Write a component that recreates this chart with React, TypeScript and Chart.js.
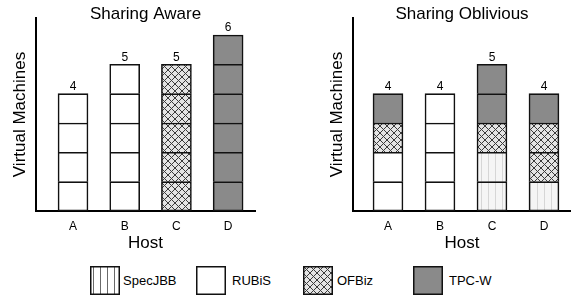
import React, { useEffect, useRef } from "react";
import { Chart, registerables } from "chart.js";

Chart.register(...registerables);

// ---------- data ----------
const hosts = ["A", "B", "C", "D"];
const apps = ["SpecJBB", "RUBiS", "OFBiz", "TPC-W"];

// VM stacks per host, bottom -> top
const awareA = ["RUBiS", "RUBiS", "RUBiS", "RUBiS"];
const awareB = ["RUBiS", "RUBiS", "RUBiS", "RUBiS", "RUBiS"];
const awareC = ["OFBiz", "OFBiz", "OFBiz", "OFBiz", "OFBiz"];
const awareD = ["TPC-W", "TPC-W", "TPC-W", "TPC-W", "TPC-W", "TPC-W"];

const obliviousA = ["RUBiS", "RUBiS", "OFBiz", "TPC-W"];
const obliviousB = ["RUBiS", "RUBiS", "RUBiS", "RUBiS"];
const obliviousC = ["SpecJBB", "SpecJBB", "OFBiz", "TPC-W", "TPC-W"];
const obliviousD = ["SpecJBB", "OFBiz", "OFBiz", "TPC-W"];

const FONT = "'Liberation Sans', Arial, Helvetica, sans-serif";

// ---------- fills ----------
function makeFill(app: string, legend = false): string | CanvasPattern {
  if (app === "TPC-W") return "#8a8a8a";
  if (app === "RUBiS") return "#ffffff";
  const c = document.createElement("canvas");
  const ctx = c.getContext("2d")!;
  if (app === "SpecJBB") {
    c.width = 7;
    c.height = 7;
    ctx.fillStyle = legend ? "#ffffff" : "#f5f5f5";
    ctx.fillRect(0, 0, 7, 7);
    ctx.fillStyle = legend ? "#6a6a6a" : "#d6d6d6";
    ctx.fillRect(3, 0, 1, 7);
  } else {
    // OFBiz cross-hatch
    c.width = 7;
    c.height = 7;
    ctx.fillStyle = "#e4e4e4";
    ctx.fillRect(0, 0, 7, 7);
    ctx.fillStyle = "#3a3a3a";
    for (let i = 0; i < 7; i++) {
      ctx.fillRect(i, i, 1, 1);
      ctx.fillRect(6 - i, i, 1, 1);
    }
  }
  return ctx.createPattern(c, "repeat")!;
}

function buildChart(
  canvas: HTMLCanvasElement,
  stacks: string[][],
  title: string,
  xMin: number,
  xMax: number,
  padRight: number
) {
  const fills: Record<string, string | CanvasPattern> = {};
  apps.forEach((a) => (fills[a] = makeFill(a)));
  const maxLen = Math.max(...stacks.map((s) => s.length));
  const datasets: any[] = [];
  for (let level = 0; level < maxLen; level++) {
    datasets.push({
      label: `VM ${level + 1}`,
      data: hosts.map((_, i) => ({ x: i, y: stacks[i][level] ? 1 : null })),
      backgroundColor: hosts.map((_, i) =>
        stacks[i][level] ? fills[stacks[i][level]] : "rgba(0,0,0,0)"
      ),
      borderColor: "#111111",
      borderWidth: { top: 1.6, left: 1.6, right: 1.6, bottom: level === 0 ? 1.6 : 0 },
      borderSkipped: false,
      barThickness: 30,
    });
  }

  const totalsPlugin = {
    id: "totals",
    afterDatasetsDraw(chart: any) {
      const { ctx, scales } = chart;
      ctx.save();
      ctx.font = `12px ${FONT}`;
      ctx.fillStyle = "#000";
      ctx.textAlign = "center";
      ctx.textBaseline = "middle";
      stacks.forEach((s, i) => {
        const px = scales.x.getPixelForValue(i);
        const py = scales.y.getPixelForValue(s.length);
        ctx.fillText(String(s.length), px, py - 7);
      });
      ctx.restore();
    },
  };

  return new Chart(canvas, {
    type: "bar",
    data: { datasets },
    plugins: [totalsPlugin],
    options: {
      responsive: false,
      animation: false,
      devicePixelRatio: 1,
      layout: { padding: { left: 0, right: padRight, top: 0, bottom: 0 } },
      plugins: {
        legend: { display: false },
        tooltip: { enabled: false },
        title: {
          display: true,
          text: title,
          fullSize: false,
          color: "#000",
          font: { family: FONT, size: 17, weight: "normal" },
          padding: { top: 4.3, bottom: -6.7 },
        },
      },
      scales: {
        x: {
          type: "linear",
          stacked: true,
          min: xMin,
          max: xMax,
          offset: false,
          grid: { display: false, drawTicks: false, tickLength: 0 },
          border: { display: true, color: "#000", width: 2 },
          afterBuildTicks: (axis: any) => {
            axis.ticks = hosts.map((_, i) => ({ value: i }));
          },
          afterFit: (scale: any) => {
            scale.height = 43;
          },
          ticks: {
            color: "#000",
            padding: 8,
            font: { family: FONT, size: 12 },
            callback: (v: any) => hosts[v] ?? "",
          },
          title: {
            display: true,
            text: "Host",
            color: "#000",
            font: { family: FONT, size: 17 },
            padding: { top: 0, bottom: 0 },
          },
        },
        y: {
          stacked: true,
          min: 0,
          max: 6.58,
          grid: { display: false, drawTicks: false, tickLength: 0 },
          border: { display: true, color: "#000", width: 2 },
          ticks: { display: false },
          afterFit: (scale: any) => {
            scale.width = 36;
          },
          title: {
            display: true,
            text: "Virtual Machines",
            color: "#000",
            font: { family: FONT, size: 17 },
            padding: { top: 10, bottom: 0 },
          },
        },
      },
    } as any,
  });
}

function Swatch({ app, left }: { app: string; left: number }) {
  const ref = useRef<HTMLCanvasElement>(null);
  useEffect(() => {
    const c = ref.current!;
    const ctx = c.getContext("2d")!;
    ctx.clearRect(0, 0, c.width, c.height);
    ctx.fillStyle = makeFill(app, true) as any;
    ctx.fillRect(1, 1, c.width - 2, c.height - 2);
    ctx.strokeStyle = "#111";
    ctx.lineWidth = 1.5;
    ctx.strokeRect(0.75, 0.75, c.width - 1.5, c.height - 1.5);
  }, [app]);
  return (
    <canvas
      ref={ref}
      width={30}
      height={29}
      style={{ position: "absolute", left, top: 266 }}
    />
  );
}

export default function App() {
  const leftRef = useRef<HTMLCanvasElement>(null);
  const rightRef = useRef<HTMLCanvasElement>(null);

  useEffect(() => {
    const c1 = buildChart(
      leftRef.current!,
      [awareA, awareB, awareC, awareD],
      "Sharing Aware",
      -0.716,
      3.52,
      30
    );
    const c2 = buildChart(
      rightRef.current!,
      [obliviousA, obliviousB, obliviousC, obliviousD],
      "Sharing Oblivious",
      -0.673,
      3.52,
      0
    );
    return () => {
      c1.destroy();
      c2.destroy();
    };
  }, []);

  const legendItems = [
    { app: "SpecJBB", box: 90, text: 123 },
    { app: "RUBiS", box: 196, text: 232 },
    { app: "OFBiz", box: 303, text: 337 },
    { app: "TPC-W", box: 413, text: 449 },
  ];

  return (
    <div
      style={{
        position: "fixed",
        left: 0,
        top: 0,
        width: 571,
        height: 297,
        background: "#fff",
        overflow: "hidden",
        fontFamily: FONT,
      }}
    >
      <canvas
        ref={leftRef}
        width={285}
        height={254}
        style={{ position: "absolute", left: 0, top: 0 }}
      />
      <canvas
        ref={rightRef}
        width={254}
        height={254}
        style={{ position: "absolute", left: 317, top: 0 }}
      />
      {legendItems.map((it) => (
        <React.Fragment key={it.app}>
          <Swatch app={it.app} left={it.box} />
          <span
            style={{
              position: "absolute",
              left: it.text,
              top: 273,
              fontSize: 13,
              lineHeight: "16px",
              color: "#000",
              whiteSpace: "nowrap",
            }}
          >
            {it.app}
          </span>
        </React.Fragment>
      ))}
    </div>
  );
}
